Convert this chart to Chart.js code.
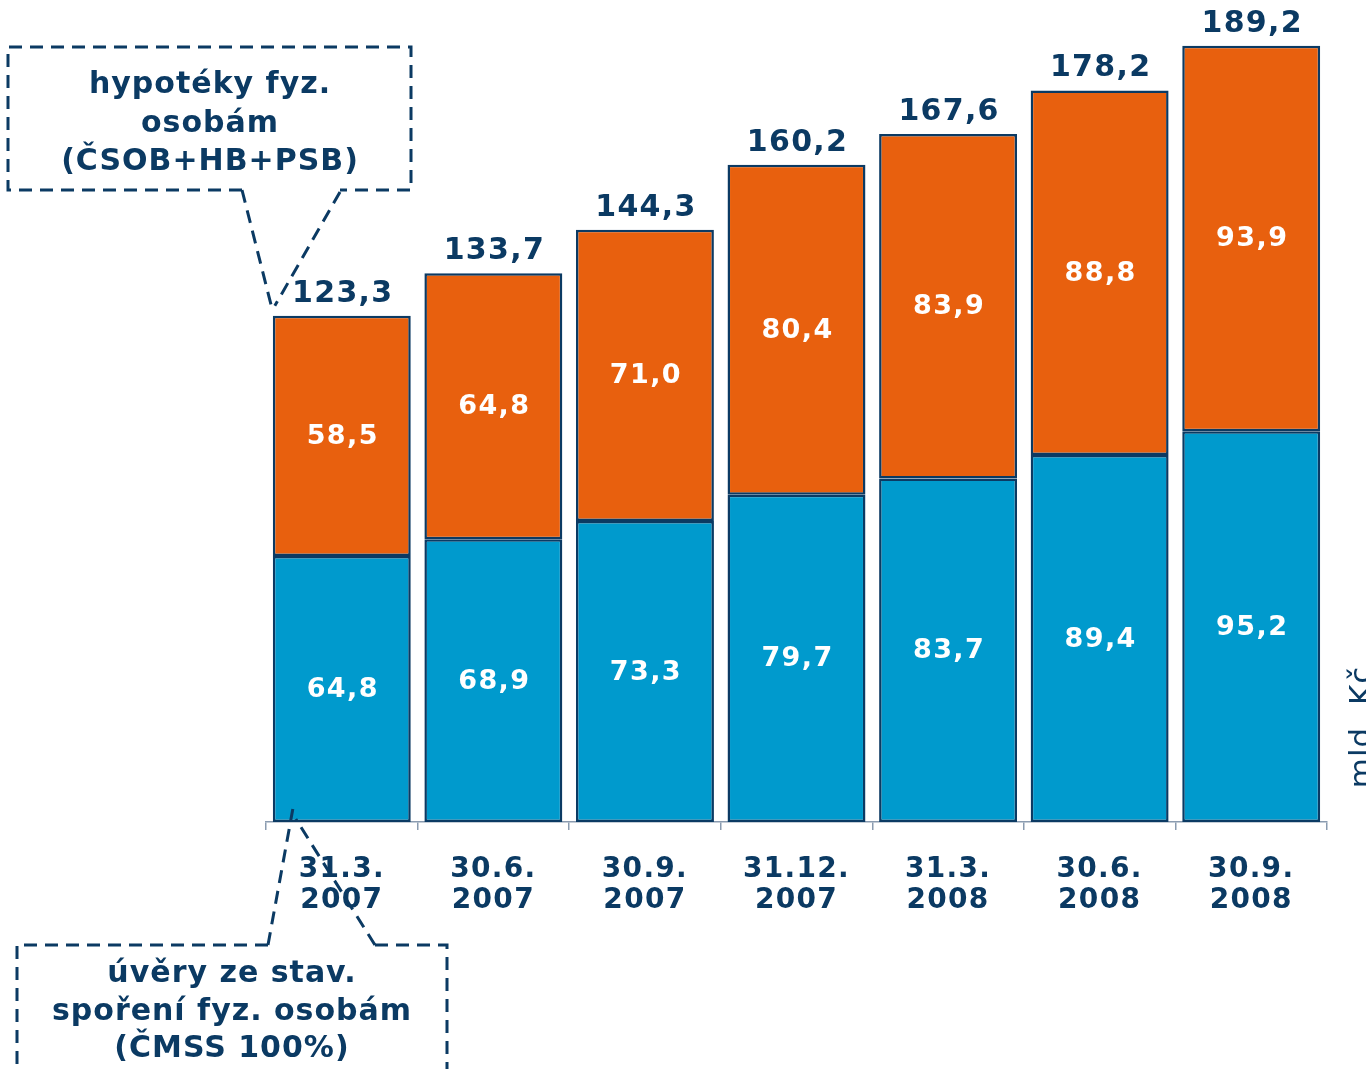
<!DOCTYPE html>
<html lang="cs">
<head>
<meta charset="utf-8">
<title>Úvěry fyzickým osobám</title>
<script src="https://cdn.jsdelivr.net/npm/chart.js@4/dist/chart.umd.min.js"></script>
<style>
  html, body { margin: 0; padding: 0; background: #fff; overflow: hidden; }
  #wrap { width: 1366px; height: 1069px; }
</style>
</head>
<body>
<div id="wrap"><canvas id="chart" width="1366" height="1069"></canvas></div>
<script>
  // data (mld. Kč)
  const categories = [
    ["31.3.", "2007"], ["30.6.", "2007"], ["30.9.", "2007"], ["31.12.", "2007"],
    ["31.3.", "2008"], ["30.6.", "2008"], ["30.9.", "2008"]
  ];
  const stavebniSporeni = [64.8, 68.9, 73.3, 79.7, 83.7, 89.4, 95.2];
  const hypoteky = [58.5, 64.8, 71.0, 80.4, 83.9, 88.8, 93.9];
  const totals = [123.3, 133.7, 144.3, 160.2, 167.6, 178.2, 189.2];

  const NAVY = "#0b3a63";
  const FONT = "'DejaVu Sans', Verdana, sans-serif";

  const fmt = (v) => v.toFixed(1).replace(".", ",");

  // wider letter spacing for all canvas text (ticks included)
  const spacing = {
    id: "spacing",
    beforeDraw(chart) { chart.ctx.letterSpacing = "1.3px"; }
  };

  // values inside segments + totals above the stacks
  const barLabels = {
    id: "barLabels",
    afterDatasetsDraw(chart) {
      const ctx = chart.ctx;
      ctx.save();
      ctx.letterSpacing = "1.4px";
      ctx.textAlign = "center";
      ctx.textBaseline = "middle";
      ctx.font = "bold 27px " + FONT;
      ctx.fillStyle = "#fff";
      chart.data.datasets.forEach((ds, i) => {
        chart.getDatasetMeta(i).data.forEach((bar, j) => {
          const p = bar.getProps(["x", "y", "base"], true);
          ctx.fillText(fmt(ds.data[j]), p.x + 1, (p.y + p.base) / 2 + 1);
        });
      });
      ctx.font = "bold 30px " + FONT;
      ctx.letterSpacing = "1.3px";
      ctx.fillStyle = NAVY;
      ctx.textBaseline = "alphabetic";
      chart.getDatasetMeta(1).data.forEach((bar, j) => {
        ctx.fillText(fmt(totals[j]), bar.x + 1, bar.y - 14);
      });
      ctx.restore();
    }
  };

  // dashed callout boxes pointing at the first stack, and the unit label
  const callouts = {
    id: "callouts",
    afterDraw(chart) {
      const ctx = chart.ctx;
      const first0 = chart.getDatasetMeta(0).data[0];
      const first1 = chart.getDatasetMeta(1).data[0];
      const left = first0.x - first0.width / 2;

      ctx.save();
      ctx.strokeStyle = NAVY;
      ctx.lineWidth = 3;
      ctx.setLineDash([13, 8]);

      // upper box -> hypotéky
      const tipTop = { x: left + 1, y: first1.y - 8 };
      ctx.beginPath();
      ctx.moveTo(242, 190);
      ctx.lineTo(8, 190);
      ctx.lineTo(8, 47);
      ctx.lineTo(411, 47);
      ctx.lineTo(411, 190);
      ctx.lineTo(340, 190);
      ctx.stroke();
      ctx.beginPath();
      ctx.moveTo(242, 190);
      ctx.lineTo(tipTop.x - 2, tipTop.y);
      ctx.moveTo(340, 192);
      ctx.lineTo(tipTop.x + 1, tipTop.y - 2);
      ctx.stroke();

      // lower box -> stavební spoření
      const tipBottom = { x: left + 20, y: first0.base - 13 };
      ctx.beginPath();
      ctx.moveTo(268, 945);
      ctx.lineTo(17, 945);
      ctx.lineTo(17, 1075);
      ctx.moveTo(447, 1075);
      ctx.lineTo(447, 945);
      ctx.lineTo(375, 945);
      ctx.stroke();
      ctx.beginPath();
      ctx.moveTo(268, 945);
      ctx.lineTo(tipBottom.x, tipBottom.y);
      ctx.moveTo(375, 945);
      ctx.lineTo(tipBottom.x + 3, tipBottom.y + 10);
      ctx.stroke();
      ctx.setLineDash([]);

      ctx.fillStyle = NAVY;
      ctx.textAlign = "center";
      ctx.textBaseline = "alphabetic";
      ctx.font = "bold 30px " + FONT;
      ctx.letterSpacing = "1px";
      ["hypotéky fyz.", "osobám", "(ČSOB+HB+PSB)"].forEach((t, i) => {
        ctx.fillText(t, 210, 93 + i * 38.5);
      });
      ["úvěry ze stav.", "spoření fyz. osobám", "(ČMSS 100%)"].forEach((t, i) => {
        ctx.fillText(t, 232, 982 + i * 37.5);
      });

      // unit, rotated at the right edge
      ctx.translate(1371, 727);
      ctx.rotate(-Math.PI / 2);
      ctx.font = "31px " + FONT;
      ctx.fillText("mld. Kč", 0, 0);
      ctx.restore();
    }
  };

  const ctx = document.getElementById("chart").getContext("2d");
  new Chart(ctx, {
    type: "bar",
    data: {
      labels: categories,
      datasets: [
        {
          label: "úvěry ze stav. spoření fyz. osobám (ČMSS 100%)",
          data: stavebniSporeni,
          backgroundColor: "#009acd",
          borderColor: NAVY,
          borderWidth: 2.5,
          borderSkipped: false
        },
        {
          label: "hypotéky fyz. osobám (ČSOB+HB+PSB)",
          data: hypoteky,
          backgroundColor: "#e8600e",
          borderColor: NAVY,
          borderWidth: 2.5,
          borderSkipped: false
        }
      ]
    },
    options: {
      responsive: false,
      animation: false,
      devicePixelRatio: 1,
      layout: { padding: { left: 266, right: 39, top: 1, bottom: 0 } },
      datasets: { bar: { categoryPercentage: 1, barPercentage: 0.91 } },
      plugins: { legend: { display: false }, tooltip: { enabled: false } },
      scales: {
        x: {
          stacked: true,
          afterFit(scale) { scale.height = 247; },
          grid: {
            offset: true,
            drawOnChartArea: false,
            drawTicks: true,
            tickLength: 8,
            color: "#8a9bb0",
            lineWidth: 1.5
          },
          border: { color: "#8a9bb0", width: 1.5 },
          ticks: {
            color: NAVY,
            padding: 24,
            font: { family: FONT, size: 28, weight: "bold", lineHeight: 1.12 }
          }
        },
        y: {
          stacked: true,
          display: false,
          min: 0,
          max: 200
        }
      }
    },
    plugins: [spacing, barLabels, callouts]
  });
</script>
</body>
</html>
